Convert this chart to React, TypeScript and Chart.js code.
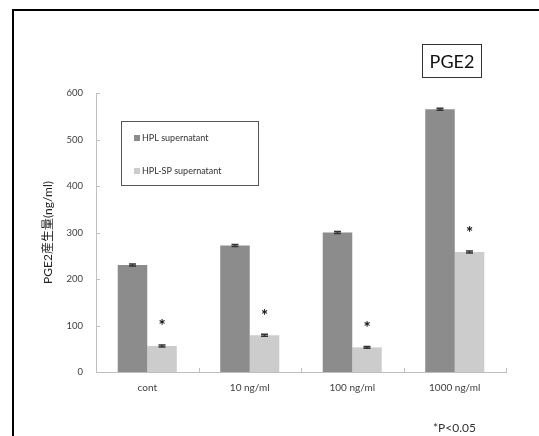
import React, { useEffect, useRef } from "react";
import { Chart, registerables } from "chart.js";

Chart.register(...registerables);

const categories = ["cont", "10 ng/ml", "100 ng/ml", "1000 ng/ml"];
const hplValues = [230, 272, 300, 565];
const hplErrors = [2, 2, 2, 2];
const spValues = [56, 79, 53, 258];
const spErrors = [2, 2, 2, 2];
const significant = [true, true, true, true];
const seriesNames = ["HPL supernatant", "HPL-SP supernatant"];
const yTicks = [0, 100, 200, 300, 400, 500, 600];

const FONT = "Lato, 'Noto Sans CJK JP', sans-serif";

const errorsByDataset = [hplErrors, spErrors];

const extrasPlugin = {
  id: "extras",
  afterDraw(chart: any) {
    const ctx = chart.ctx as CanvasRenderingContext2D;
    const ya = chart.scales.y;
    const area = chart.chartArea;
    ctx.save();
    // inside tick marks on y axis
    ctx.strokeStyle = "#bfbfbf";
    ctx.lineWidth = 1;
    yTicks.forEach((v) => {
      const y = Math.round(ya.getPixelForValue(v)) + 0.5;
      ctx.beginPath();
      ctx.moveTo(area.left, y);
      ctx.lineTo(area.left + 4, y);
      ctx.stroke();
    });
    // x axis category boundary ticks (inside)
    for (let i = 1; i <= categories.length; i++) {
      const x = Math.round(area.left + ((area.right - area.left) * i) / categories.length) + 0.5;
      ctx.beginPath();
      ctx.moveTo(x, area.bottom);
      ctx.lineTo(x, area.bottom - 4);
      ctx.stroke();
    }
    // error bars
    chart.data.datasets.forEach((ds: any, di: number) => {
      const meta = chart.getDatasetMeta(di);
      meta.data.forEach((bar: any, i: number) => {
        const v = ds.data[i];
        const e = errorsByDataset[di][i];
        const yTop = ya.getPixelForValue(v + e);
        const yBot = ya.getPixelForValue(v - e);
        ctx.strokeStyle = "#333333";
        ctx.lineWidth = 1.5;
        ctx.beginPath();
        ctx.moveTo(bar.x, yTop);
        ctx.lineTo(bar.x, yBot);
        ctx.moveTo(bar.x - 3.5, yTop);
        ctx.lineTo(bar.x + 3.5, yTop);
        ctx.moveTo(bar.x - 3.5, yBot);
        ctx.lineTo(bar.x + 3.5, yBot);
        ctx.stroke();
      });
    });
    // asterisks above SP bars
    const spMeta = chart.getDatasetMeta(1);
    ctx.fillStyle = "#111111";
    ctx.font = `bold 17px ${FONT}`;
    ctx.textAlign = "center";
    ctx.textBaseline = "middle";
    spMeta.data.forEach((bar: any, i: number) => {
      if (!significant[i]) return;
      const y = ya.getPixelForValue(spValues[i]);
      ctx.fillText("*", bar.x, y - 19);
    });
    // legend box
    const lx = 121, ly = 121, lw = 137, lh = 64;
    ctx.strokeStyle = "#555555";
    ctx.lineWidth = 1;
    ctx.fillStyle = "#ffffff";
    ctx.fillRect(lx, ly, lw, lh);
    ctx.strokeRect(lx + 0.5, ly + 0.5, lw, lh);
    ctx.font = `9px ${FONT}`;
    ctx.textAlign = "left";
    ctx.textBaseline = "middle";
    chart.data.datasets.forEach((ds: any, di: number) => {
      const cy = ly + 17 + di * 33;
      ctx.fillStyle = ds.backgroundColor;
      ctx.fillRect(lx + 13, cy - 3, 6, 6);
      ctx.fillStyle = "#333333";
      ctx.fillText(ds.label, lx + 21, cy);
    });
    ctx.restore();
  },
};

export default function App() {
  const ref = useRef<HTMLCanvasElement | null>(null);
  useEffect(() => {
    if (!ref.current) return;
    const chart = new Chart(ref.current, {
      type: "bar",
      data: {
        labels: categories,
        datasets: [
          {
            label: seriesNames[0],
            data: hplValues,
            backgroundColor: "#8c8c8c",
            categoryPercentage: 0.576,
            barPercentage: 1,
          },
          {
            label: seriesNames[1],
            data: spValues,
            backgroundColor: "#cccccc",
            categoryPercentage: 0.576,
            barPercentage: 1,
          },
        ],
      },
      options: {
        responsive: false,
        animation: false,
        layout: { padding: { left: 0, right: 33, top: 93, bottom: 34 } },
        plugins: {
          legend: { display: false },
          tooltip: { enabled: false },
        },
        scales: {
          x: {
            grid: { display: false, drawTicks: false },
            border: { display: true, color: "#bfbfbf", width: 1 },
            ticks: { color: "#404040", font: { family: FONT, size: 10 }, padding: 10 },
            afterFit: (s: any) => {
              s.height = 30;
            },
          },
          y: {
            min: 0,
            max: 600,
            grid: { display: false, drawTicks: false },
            border: { display: true, color: "#bfbfbf", width: 1 },
            afterBuildTicks: (s: any) => {
              s.ticks = yTicks.map((v) => ({ value: v }));
            },
            ticks: { color: "#404040", font: { family: FONT, size: 9.5 }, padding: 13 },
            title: {
              display: true,
              text: "PGE2産生量(ng/ml)",
              color: "#222222",
              font: { family: FONT, size: 12 },
              padding: { top: 41, bottom: 0 },
            },
            afterFit: (s: any) => {
              s.width = 96;
            },
          },
        },
      },
      plugins: [extrasPlugin],
    });
    return () => chart.destroy();
  }, []);

  return (
    <div
      style={{
        position: "fixed",
        left: 0,
        top: 0,
        width: 539,
        height: 436,
        overflow: "hidden",
        background: "#ffffff",
        fontFamily: FONT,
      }}
    >
      <div
        style={{
          position: "absolute",
          left: 12,
          top: 9,
          width: 600,
          height: 500,
          border: "2px solid #000000",
        }}
      />
      <canvas ref={ref} width={539} height={436} style={{ position: "absolute", left: 0, top: 0 }} />
      <div
        style={{
          position: "absolute",
          left: 422,
          top: 44,
          width: 58,
          height: 32,
          border: "1px solid #333333",
          fontSize: 18,
          lineHeight: "32px",
          textAlign: "center",
          color: "#111111",
        }}
      >
        PGE2
      </div>
      <div
        style={{
          position: "absolute",
          left: 433,
          top: 420,
          fontSize: 12,
          lineHeight: "16px",
          color: "#333333",
          whiteSpace: "nowrap",
        }}
      >
        *P&lt;0.05
      </div>
    </div>
  );
}
